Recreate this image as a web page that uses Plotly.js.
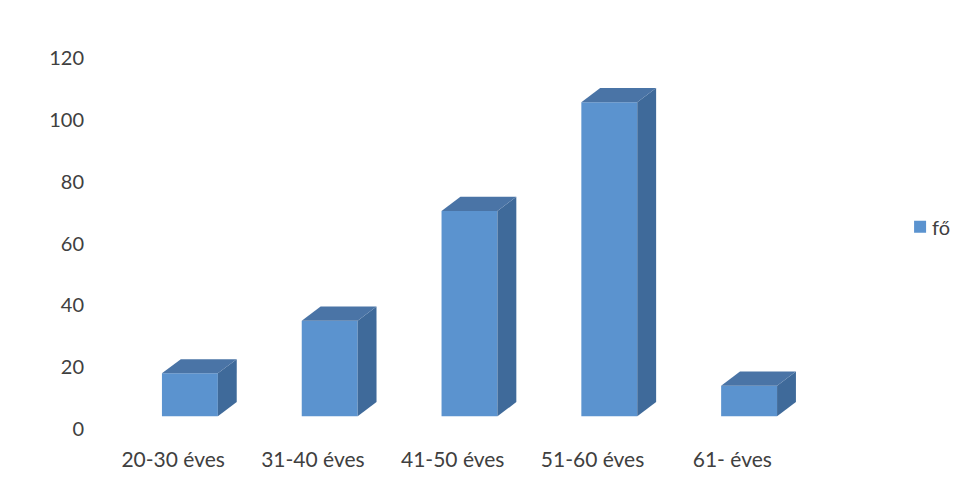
<!DOCTYPE html>
<html><head><meta charset="utf-8">
<script src="https://cdn.plot.ly/plotly-3.0.1.min.js"></script>
<style>html,body{margin:0;padding:0;background:#fff}#c{width:969px;height:486px}</style>
</head><body><div id="c"></div>
<script>
const categories = ["20-30 éves","31-40 éves","41-50 éves","51-60 éves","61- éves"];
const values = [18,35,70.5,105.7,14];
const seriesName = "fő";
const yTicks = [0,20,40,60,80,100,120];

const positions = categories.map((_,i)=>i);
const floor = 4.1, barW = 0.4, depthX = 0.135, depthY = 4.6, labelShift = 0.12;
const front = "#5b93cf", top_ = "#4a74a6", side = "#3f6a9a";
const yFont = {family:"Lato, 'Open Sans', sans-serif", size:20, color:"#404040"};
const xFont = {family:"Lato, 'Open Sans', sans-serif", size:21, color:"#404040"};

const traces = [];
function poly(xs, ys, color){
  traces.push({type:"scatter",mode:"lines",x:xs,y:ys,fill:"toself",fillcolor:color,
    line:{width:0,color:color},showlegend:false,hoverinfo:"skip"});
}
values.forEach((v,i)=>{
  const l=i-barW/2, r=i+barW/2;
  poly([r,r+depthX,r+depthX,r,r],[floor,floor+depthY,v+depthY,v,floor],side);
  poly([l,r,r+depthX,l+depthX,l],[v,v,v+depthY,v+depthY,v],top_);
});
traces.push({type:"bar",x:positions,y:values.map(v=>v-floor),base:values.map(()=>floor),
  width:barW,marker:{color:front,line:{width:0}},name:seriesName,showlegend:true});

const layout = {
  width:969,height:486,paper_bgcolor:"#fff",plot_bgcolor:"#fff",
  margin:{l:120,r:150,t:58,b:57,pad:0,autoexpand:false},font:yFont,
  xaxis:{type:"linear",range:[-0.5,4.5],tickmode:"array",tickvals:positions.map(p=>p-labelShift),ticktext:categories,
    showgrid:false,zeroline:false,showline:false,ticks:"outside",ticklen:12,tickcolor:"rgba(0,0,0,0)",tickfont:xFont,automargin:false},
  yaxis:{range:[0,120],tickmode:"array",tickvals:yTicks,showgrid:false,zeroline:false,showline:false,
    ticks:"outside",ticklen:31,tickcolor:"rgba(0,0,0,0)",tickfont:yFont,automargin:false},
  legend:{x:1.116,xanchor:"left",y:0.545,yanchor:"middle",font:yFont,bgcolor:"rgba(0,0,0,0)",itemwidth:30},
  showlegend:true
};
Plotly.newPlot("c",traces,layout,{displayModeBar:false,staticPlot:true}).then(()=>{
  document.querySelectorAll("#c .legendtext").forEach(t=>t.setAttribute("x","32"));
});
</script></body></html>
